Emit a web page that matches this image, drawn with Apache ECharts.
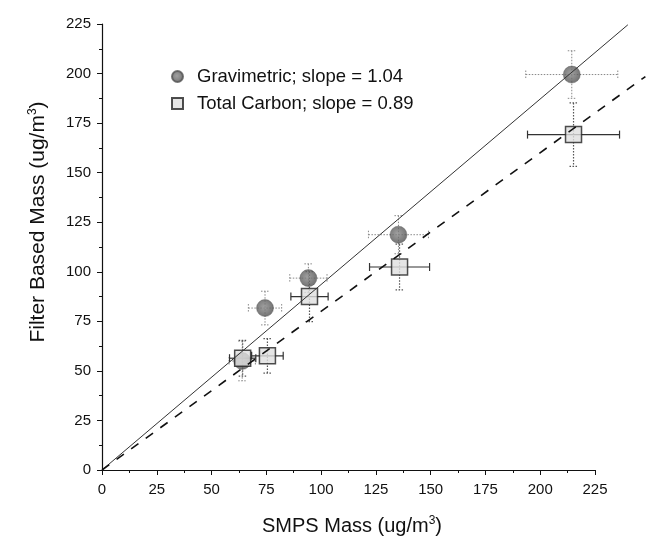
<!DOCTYPE html>
<html><head><meta charset="utf-8">
<script src="https://cdn.jsdelivr.net/npm/echarts@6/dist/echarts.min.js"></script>
<style>html,body{margin:0;padding:0;background:#fff}#c{width:672px;height:554px}</style>
</head><body><div id="c"></div>
<script>
// Axis ticks
const axisMin = 0, axisMax = 225, axisStep = 25;
// Gravimetric series
const gravX    = [64.0, 74.4, 94.2, 135.3, 214.4];
const gravY    = [55.0, 81.7, 96.8, 118.7, 199.5];
const gravXErr = [6.0, 7.6, 8.5, 13.7, 21.0];
const gravYErr = [10.0, 8.5, 7.2, 9.6, 12.0];
// Total carbon series
const carbX    = [64.2, 75.5, 94.7, 135.8, 215.2];
const carbY    = [56.4, 57.6, 87.5, 102.4, 169.2];
const carbXErr = [6.0, 7.2, 8.5, 13.7, 21.0];
const carbYErr = [9.0, 8.7, 12.6, 11.5, 16.0];
// Fit lines (start and end points)
const gravFitX = [0, 240];
const gravFitY = [0, 224.6];
const carbFitX = [0, 248];
const carbFitY = [0, 198.5];

const gravName = 'Gravimetric; slope = 1.04';
const carbName = 'Total Carbon; slope = 0.89';
const xName = 'SMPS Mass (ug/m{sup|3})';
const yName = 'Filter Based Mass (ug/m{sup|3})';

const zip2 = (a, b) => a.map((v, i) => [v, b[i]]);
const zip4 = (a, b, c, d) => a.map((v, i) => [v, b[i], c[i], d[i]]);

function errRender(hStyle, vStyle) {
  return function (params, api) {
    const x = api.value(0), y = api.value(1), ex = api.value(2), ey = api.value(3);
    const l = api.coord([x - ex, y]), r = api.coord([x + ex, y]);
    const t = api.coord([x, y + ey]), b = api.coord([x, y - ey]);
    const c = 4;
    const ln = (x1, y1, x2, y2, st) => ({type: 'line', shape: {x1, y1, x2, y2}, style: st});
    return {type: 'group', children: [
      ln(l[0], l[1], r[0], r[1], hStyle),
      ln(l[0], l[1] - c, l[0], l[1] + c, hStyle),
      ln(r[0], r[1] - c, r[0], r[1] + c, hStyle),
      ln(t[0], t[1], b[0], b[1], vStyle),
      ln(t[0] - c, t[1], t[0] + c, t[1], vStyle),
      ln(b[0] - c, b[1], b[0] + c, b[1], vStyle)
    ]};
  };
}

function fitRender(style) {
  return function (params, api) {
    if (params.dataIndex !== 0) return null;
    const p0 = api.coord([api.value(0, 0), api.value(1, 0)]);
    const p1 = api.coord([api.value(0, 1), api.value(1, 1)]);
    return {type: 'line', shape: {x1: p0[0], y1: p0[1], x2: p1[0], y2: p1[1]}, style: style};
  };
}

const font = 'Liberation Sans, Arial, sans-serif';
const supRich = {sup: {fontSize: 12, fontFamily: font, fill: '#111', color: '#111', verticalAlign: 'top', padding: [0, 0, 10, 0]}};
const axisCommon = {
  type: 'value', min: axisMin, max: axisMax, interval: axisStep,
  axisLine: {show: true, lineStyle: {color: '#111', width: 1.2}},
  axisTick: {show: true, inside: false, length: 5, lineStyle: {color: '#111'}},
  minorTick: {show: true, splitNumber: 2, length: 3, lineStyle: {color: '#111'}},
  splitLine: {show: false},
  axisLabel: {color: '#111', fontSize: 15, fontFamily: font}
};

const chart = echarts.init(document.getElementById('c'), null, {renderer: 'canvas'});
chart.setOption({
  animation: false,
  backgroundColor: '#fff',
  grid: {left: 102, top: 24, right: 77, bottom: 84, containLabel: false},
  xAxis: Object.assign({}, axisCommon, {axisLabel: Object.assign({}, axisCommon.axisLabel, {margin: 12})}),
  yAxis: Object.assign({}, axisCommon, {axisLabel: Object.assign({}, axisCommon.axisLabel, {margin: 11})}),
  graphic: [
    {type: 'text', x: 352, y: 526, style: {text: xName, rich: supRich, font: '20px ' + font, fill: '#111', align: 'center', verticalAlign: 'middle'}},
    {type: 'text', x: 38, y: 222, rotation: Math.PI / 2, style: {text: yName, rich: supRich, font: '21px ' + font, fill: '#111', align: 'center', verticalAlign: 'middle'}}
  ],
  legend: {
    orient: 'vertical', left: 166, top: 62, itemWidth: 11, itemHeight: 11, itemGap: 8,
    data: [gravName, carbName],
    textStyle: {color: '#111', fontSize: 18.5, fontFamily: font, padding: [0, 0, 0, 9]}
  },
  series: [
    {type: 'custom', silent: true, z: 1, data: zip4(gravX, gravY, gravXErr, gravYErr),
      renderItem: errRender({stroke: '#888', lineWidth: 1, lineDash: [1.5, 1.5]}, {stroke: '#888', lineWidth: 1, lineDash: [1.5, 1.5]})},
    {type: 'custom', silent: true, z: 2, data: zip4(carbX, carbY, carbXErr, carbYErr),
      renderItem: errRender({stroke: '#333', lineWidth: 1.2}, {stroke: '#555', lineWidth: 1.2, lineDash: [1.5, 1.5]})},
    {name: gravName, type: 'scatter', z: 3, symbol: 'circle', symbolSize: 17, data: zip2(gravX, gravY),
      itemStyle: {color: {type: 'radial', x: 0.45, y: 0.45, r: 0.6, colorStops: [{offset: 0, color: '#8a8a8a'}, {offset: 1, color: '#4a4a4a'}]}, borderColor: '#555', borderWidth: 0.5}},
    {name: carbName, type: 'scatter', z: 4, symbol: 'rect', symbolSize: 16, data: zip2(carbX, carbY),
      itemStyle: {color: '#dedede', borderColor: '#222', borderWidth: 1.5}},
    {type: 'custom', z: 5, silent: true, clip: false, data: zip2(gravFitX, gravFitY),
      renderItem: fitRender({stroke: '#333', lineWidth: 1})},
    {type: 'custom', z: 5, silent: true, clip: false, data: zip2(carbFitX, carbFitY),
      renderItem: fitRender({stroke: '#111', lineWidth: 1.6, lineDash: [9, 9]})}
  ]
});
</script></body></html>
